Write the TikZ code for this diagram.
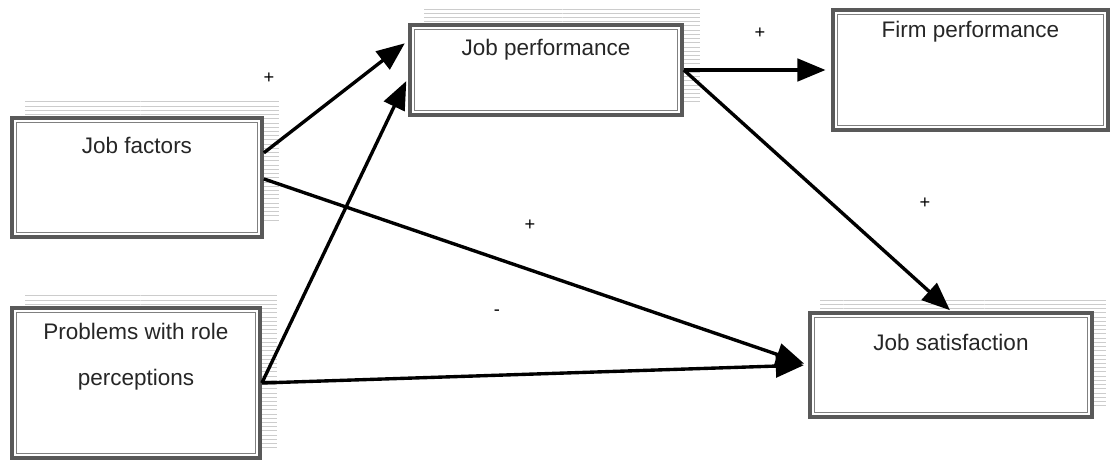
\documentclass[tikz,border=0pt]{standalone}
\usepackage{fontspec}
\setmainfont{Liberation Sans}
\usetikzlibrary{arrows.meta,patterns,backgrounds}

\begin{document}
\begin{tikzpicture}[x=0.025cm,y=-0.025cm,
    varbox/.style={draw=black!65,line width=2.6pt,fill=white,inner sep=0pt,
      path picture={\draw[black!50,line width=0.6pt]
        ([shift={(3pt,3pt)}]path picture bounding box.south west) rectangle
        ([shift={(-3pt,-3pt)}]path picture bounding box.north east);}},
    boxtext/.style={font=\fontsize{16}{19}\selectfont,text=black!85,inner sep=0pt},
    sign/.style={font=\fontsize{13}{15}\selectfont,inner sep=1pt},
    effect/.style={line width=2.4pt,-{Triangle[length=20pt,width=16pt]}},
    shade/.style={pattern=horizontal lines,pattern color=black!20}]
  \useasboundingbox (0,0) rectangle (1113,461);
  % boxes
  \node[varbox,minimum width=6.25cm,minimum height=2.975cm] (jf) at (137,177.5) {};
  \node[varbox,minimum width=6.2cm,minimum height=3.75cm] (pr) at (136,383) {};
  \node[varbox,minimum width=6.8cm,minimum height=2.25cm] (jp) at (546,70) {};
  \node[varbox,minimum width=6.875cm,minimum height=3.0cm] (fp) at (970.5,70) {};
  \node[varbox,minimum width=7.05cm,minimum height=2.6cm] (js) at (951,365) {};
  % dotted shadows behind
  \begin{scope}[on background layer]
    \fill[shade] ([shift={(15,-15)}]jf.south west) rectangle ([shift={(15,-15)}]jf.north east);
    \fill[shade] ([shift={(15,-12)}]pr.south west) rectangle ([shift={(15,-12)}]pr.north east);
    \fill[shade] ([shift={(16,-15)}]jp.south west) rectangle ([shift={(16,-15)}]jp.north east);
    \fill[shade] ([shift={(12,-11)}]js.south west) rectangle ([shift={(12,-11)}]js.north east);
  \end{scope}
  % texts
  \node[boxtext] (jf-t) at ([yshift=-21pt]jf.north) {Job factors};
  \node[boxtext,align=center,font=\fontsize{16}{33}\selectfont] (pr-t) at ([yshift=-36pt]pr.north) {Problems with role\\perceptions};
  \node[boxtext] (jp-t) at ([yshift=-19pt]jp.north) {Job performance};
  \node[boxtext] (fp-t) at ([yshift=-17pt]fp.north) {Firm performance};
  \node[boxtext] (js-t) at ([yshift=-22pt]js.north) {Job satisfaction};
  % arrows
  \draw[effect,shorten >=3pt] (jf.11) -- (jp.168);
  \draw[effect,shorten >=3pt] (pr.east) -- (jp.183);
  \draw[effect,shorten >=4pt] (jp.east) -- (fp.west);
  \draw[effect,shorten >=1pt] (jp.east) -- (js.north);
  \draw[effect,shorten >=3pt] ([yshift=-1pt]jf.east) -- (js.west);
  \draw[effect,shorten >=3pt] (pr.east) -- (js.west);
  % signs
  \node[sign] (s1) at (269,78) {+};
  \node[sign] (s2) at (760,33) {+};
  \node[sign] (s3) at (925,203) {+};
  \node[sign] (s4) at (530,225) {+};
  \node[sign] (s5) at (497,313) {-};
\end{tikzpicture}
\end{document}
